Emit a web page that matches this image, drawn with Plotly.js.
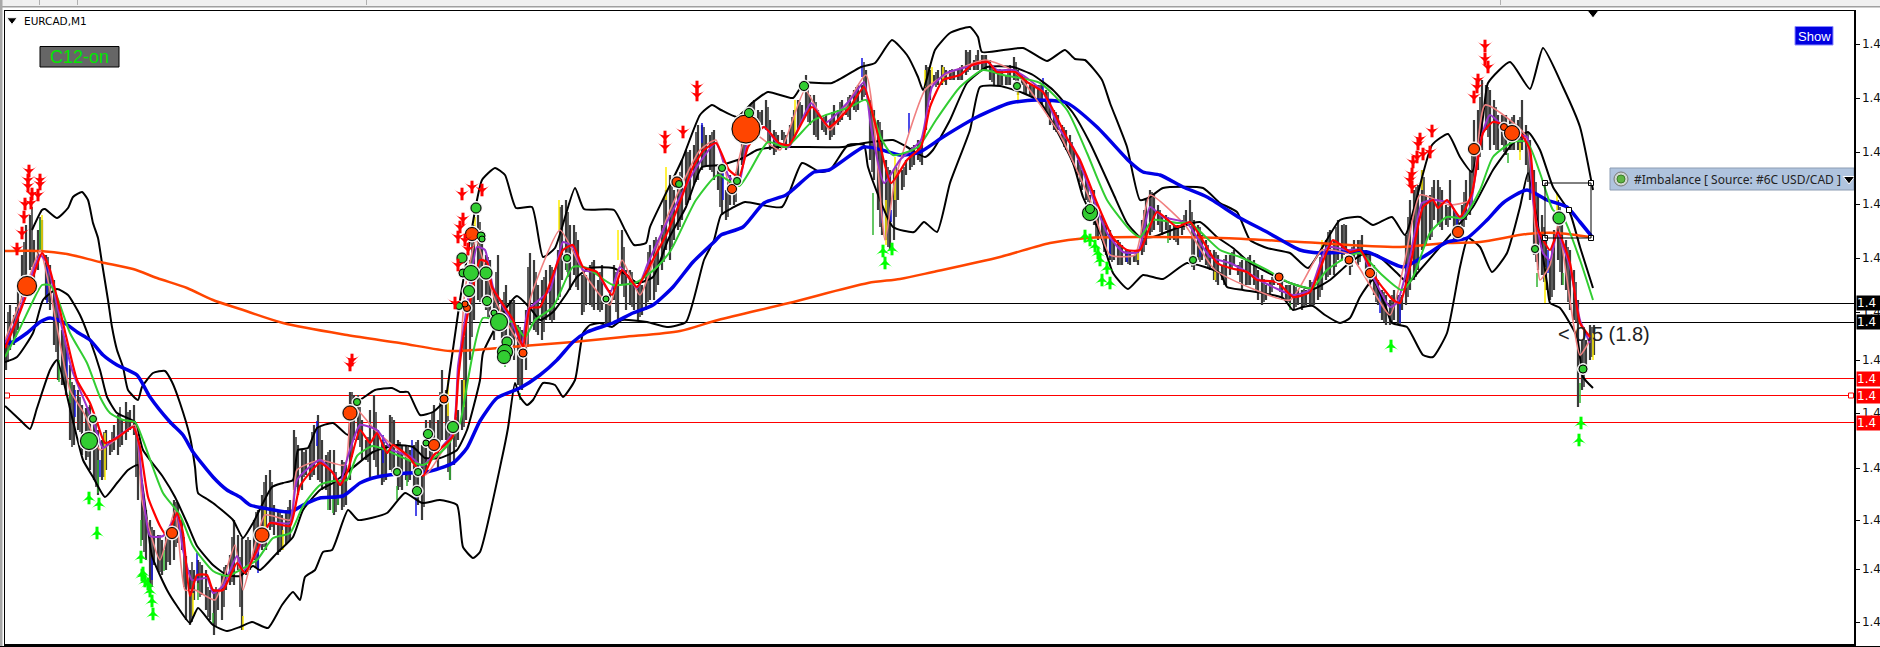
<!DOCTYPE html>
<html>
<head>
<meta charset="utf-8">
<script src="https://cdn.plot.ly/plotly-3.0.1.min.js"></script>
<style>html,body{margin:0;padding:0;background:#fff;overflow:hidden}#chart{width:1880px;height:647px}</style>
</head>
<body>
<div id="chart"></div>
<script>
// Vertical unit: points above 1.40000. Horizontal unit: chart bars.
const symbolName = 'EURCAD,M1';
const priceTicks = [603,549,495,443,389,335,287,234,179,127,78,25];
const priceTickText = priceTicks.map(() => '1.4');
const blackLevels = [343.5,324.5];
const redLevels = [268.5,251.5,224.5];

const barStart = 6, barStep = 4;
const barHigh = [
307,342,332,357,392,422,432,407,417,427,392,382,367,347,317,302,282,262,257,242,
239,242,222,217,207,217,207,222,232,227,245,237,242,207,167,137,127,117,112,107,
117,112,147,144,127,91,77,77,87,82,77,57,57,57,72,82,92,127,112,109,
107,107,127,137,152,172,177,142,137,132,137,147,217,202,197,197,202,222,232,207,
192,197,197,167,187,182,255,252,252,227,207,237,252,217,207,202,232,227,207,202,
202,197,202,207,202,227,227,242,227,277,257,227,227,237,267,347,387,422,432,417,
392,387,357,392,347,362,347,347,322,317,337,394,387,362,367,377,382,377,397,442,
447,422,422,407,372,372,382,387,367,382,347,357,382,367,417,377,377,367,362,362,
377,402,407,407,422,457,472,457,467,487,497,497,502,522,522,512,512,517,482,477,
457,472,462,487,507,537,542,547,537,537,547,527,517,512,517,512,522,537,547,542,
572,552,552,537,527,532,527,542,537,547,542,552,557,562,562,577,547,537,527,517,
487,477,477,477,477,487,492,502,507,502,582,577,572,577,582,577,577,577,577,582,
597,597,587,597,592,592,587,577,577,577,572,582,590,577,572,567,562,562,562,562,
557,547,537,532,522,517,512,497,487,477,472,452,457,432,432,422,417,407,407,402,
397,397,392,397,427,447,457,452,442,432,432,422,422,422,427,437,447,427,422,412,
407,397,397,392,382,392,392,397,382,387,387,392,387,377,372,362,367,372,372,367,
362,362,362,357,357,357,367,362,377,402,407,417,407,427,422,422,397,407,407,412,
397,392,382,367,357,352,347,357,352,352,412,447,457,462,477,452,452,467,467,457,
442,467,437,432,442,467,477,527,537,567,562,557,547,532,532,532,527,532,527,547,
522,507,477,452,432,407,387,417,447,432,407,397,377,347,307,307,322,322];
const barLow = [
277,297,302,317,347,362,377,367,377,397,347,337,302,267,262,252,207,202,217,192,
187,177,167,152,167,177,192,197,192,202,207,217,212,147,107,87,57,82,77,72,
77,82,87,104,97,27,22,47,57,52,37,27,12,37,27,57,62,62,77,17,
72,77,87,77,97,97,117,112,92,97,102,107,157,152,157,172,167,172,167,157,
157,137,132,142,137,142,167,207,207,187,187,167,187,172,162,167,177,177,157,157,
167,167,157,142,127,177,187,197,177,207,207,167,182,207,217,227,287,327,347,347,
337,327,307,322,302,297,302,287,262,257,277,322,317,312,307,327,327,327,347,367,
377,357,372,357,332,342,342,337,337,337,322,322,347,327,362,337,342,337,327,332,
337,347,347,362,377,397,387,407,417,427,442,447,462,467,477,482,477,467,457,432,
427,442,442,462,482,497,507,517,517,522,517,497,492,497,507,497,502,507,517,527,
532,522,512,507,517,512,507,512,522,527,532,527,537,537,547,552,487,467,437,412,
407,397,407,447,457,472,477,482,487,482,517,547,562,562,562,562,567,567,567,567,
572,577,577,577,577,577,567,562,562,562,562,562,567,552,562,552,552,547,547,542,
537,522,517,517,507,497,492,482,472,457,447,442,422,407,407,392,387,387,382,382,
385,382,385,382,392,402,412,417,422,412,417,407,407,402,412,422,422,377,387,387,
382,377,367,362,367,362,372,382,372,357,362,362,362,347,342,347,352,362,362,347,
347,342,337,342,337,342,342,342,347,357,367,372,372,387,387,397,372,387,382,392,
377,362,352,342,327,322,322,327,322,337,342,357,367,377,397,402,407,427,422,417,
422,427,407,407,412,427,432,467,477,497,517,497,502,497,502,492,497,497,497,497,
482,447,392,377,372,357,347,357,387,362,357,337,327,240,257,277,287,292];

const wickStart = 8, wickStep = 8;
const wickHigh = [
335,340,405,440,430,390,350,310,265,250,240,230,215,215,240,235,225,150,120,112,
115,145,110,85,85,60,60,80,110,90,110,135,165,165,135,140,210,195,215,220,
195,175,185,255,240,210,235,205,230,205,200,205,205,235,255,245,230,310,410,425,
390,375,355,345,320,380,375,370,380,440,435,415,375,385,375,350,375,400,375,365,
395,410,450,465,475,495,515,520,515,480,465,475,520,545,535,540,515,515,530,545,
560,545,530,535,545,550,560,585,540,525,480,480,480,500,505,580,575,580,578,580,
595,592,592,580,578,578,585,570,563,562,555,535,520,505,482,462,445,428,412,405,
397,395,437,455,437,430,422,432,435,420,402,395,388,395,385,390,382,368,370,370,
362,360,358,365,390,415,420,423,400,407,395,375,355,352,350,430,460,470,460,460,
440,435,455,500,550,560,540,532,530,530,515,465,420,400,440,400,365,320,320];
const wickLow = [
285,310,350,380,395,345,295,262,200,215,190,160,170,195,200,215,170,95,60,75,
85,100,60,25,50,30,20,40,65,40,75,80,100,120,95,105,160,170,170,165,
150,135,140,190,200,185,180,165,175,160,165,150,140,190,200,175,200,220,310,345,
330,315,300,295,260,300,315,315,325,350,370,360,335,340,335,320,335,350,340,330,
345,355,385,400,420,445,465,480,475,440,430,445,490,510,520,505,495,500,505,520,
525,510,515,510,525,530,535,550,475,420,400,430,460,480,485,540,560,565,567,567,
575,577,577,565,562,562,560,553,550,545,530,515,500,485,465,445,410,395,385,382,
383,385,395,415,415,410,405,417,380,385,380,365,362,378,365,362,355,345,355,355,
345,340,340,342,350,370,380,392,380,385,368,345,325,324,322,350,370,400,410,420,
420,407,420,440,490,510,497,495,497,495,465,385,365,350,375,345,325,260,290];

const yellowTickX = [42,105,193,243,265,283,448,464,475,559,618,666,795,886,895,925,932,943,1018,1138,1215,1322,1422,1520,1545,1557,1593];
const yellowTickHigh = [432,214,54,31,139,117,267,267,430,447,417,480,547,447,490,577,580,580,557,394,377,407,477,504,380,454,314];
const yellowTickLow = [397,167,31,17,107,97,231,240,407,417,387,447,507,402,447,560,564,564,547,387,367,394,457,487,344,434,287];
const blueTickX = [47,67,75,100,152,197,258,317,383,416,412,702,723,862,882,891,909,1043,1110,1127,1200,1380,1400,1457,1548];
const blueTickHigh = [380,300,257,187,91,94,97,226,212,157,207,524,474,589,440,437,534,569,407,394,400,354,347,434,397];
const blueTickLow = [344,267,230,170,67,67,74,201,184,131,187,504,447,570,424,425,514,554,390,385,390,334,324,417,374];
const greenTickX = [40,59,70,98,141,164,198,213,328,333,338,397,407,450,505,520,567,873,1168,1290,1508,1537,1563,1580];
const greenTickHigh = [427,287,267,187,127,97,64,34,151,151,151,161,171,184,289,254,387,454,414,344,494,374,374,264];
const greenTickLow = [397,265,244,154,101,76,47,24,137,134,142,147,161,167,280,247,375,412,404,337,484,360,362,244];

const upperX = [
32,42,45,57,68,73,82,88,93,98,
102,108,112,117,123,128,138,142,153,165,
172,180,190,195,198,207,213,233,243,253,
272,283,293,298,308,317,333,348,352,363,
375,392,400,408,420,433,445,450,460,470,
476,482,495,505,516,532,543,555,575,584,
614,625,634,646,650,682,700,712,721,737,
752,768,793,804,832,861,875,892,907,918,
923,935,950,970,978,982,1023,1047,1065,1075,
1085,1102,1110,1127,1140,1150,1163,1203,1220,1237,
1250,1267,1290,1308,1340,1360,1373,1392,1405,1432,
1448,1460,1472,1483,1488,1510,1530,1543,1563,1580,
1593];
const upperY = [
417,437,438,429,439,450,455,447,424,409,
384,347,320,297,280,257,247,260,274,276,
265,244,210,180,154,148,144,127,109,124,
160,164,167,197,199,219,224,212,242,249,
257,259,255,255,232,235,247,277,347,407,
442,467,479,472,439,440,390,399,459,438,
437,417,402,404,420,487,532,542,537,530,
544,555,549,564,564,580,584,607,592,570,
557,597,614,620,610,595,599,586,597,588,
587,567,544,500,447,450,459,459,444,435,
407,399,394,379,427,430,422,430,412,502,
513,490,475,530,564,585,558,599,560,520,
457];
const middleX = [
5,17,33,43,57,68,80,90,100,107,
117,135,143,163,175,187,197,213,227,240,
253,260,277,293,303,320,333,350,373,397,
413,425,440,457,467,480,483,507,517,530,
540,553,567,577,590,613,627,637,653,668,
686,702,721,743,757,779,843,864,893,907,
925,933,950,967,987,1013,1033,1053,1073,1090,
1113,1127,1140,1153,1177,1200,1217,1233,1250,1263,
1290,1313,1330,1347,1363,1377,1397,1408,1420,1473,
1493,1513,1528,1540,1553,1570,1580,1593];
const middleY = [
285,290,314,347,358,352,332,307,277,250,
234,225,197,170,150,124,101,82,72,71,
81,77,94,110,137,157,164,177,195,202,
200,189,189,197,217,267,294,340,351,339,
327,335,354,370,379,379,372,364,370,407,
440,480,482,489,497,500,500,504,507,500,
490,497,527,564,580,580,572,557,534,504,
454,424,410,410,419,425,410,399,384,377,
364,358,367,382,393,392,374,364,377,440,
477,504,515,497,460,434,400,359];
const lowerX = [
5,20,30,37,50,57,72,83,93,105,
117,128,138,152,167,177,190,198,213,227,
240,252,268,282,293,300,305,315,323,332,
348,358,387,405,422,440,457,463,473,480,
502,508,515,520,527,533,543,555,563,575,
583,590,600,612,622,647,667,686,704,714,
721,732,745,782,802,820,830,848,864,868,
893,914,924,937,950,970,980,1000,1023,1040,
1073,1083,1100,1113,1128,1143,1163,1187,1220,1227,
1243,1262,1283,1293,1303,1313,1325,1340,1350,1360,
1373,1385,1392,1407,1413,1423,1433,1447,1460,1468,
1480,1492,1507,1520,1528,1547,1550,1560,1577,1583,1593];
const lowerY = [
241,227,218,239,277,287,230,187,170,150,
164,177,182,91,57,41,24,39,22,16,
20,25,19,42,55,47,70,77,95,97,
137,127,134,154,144,147,142,100,89,95,
189,219,264,250,242,247,264,262,250,267,
314,322,324,320,327,325,320,325,387,407,
432,439,445,440,484,475,477,502,502,480,
420,415,425,415,464,517,560,561,554,545,
484,450,414,374,358,372,368,384,374,360,
357,354,349,337,340,341,332,324,329,350,
367,342,324,320,310,292,290,314,380,409,
400,375,394,440,474,364,344,339,310,270,259];

const slowX = [5,40,67,100,133,157,187,213,240,283,347,400,450,473,523,573,623,680,718,789,868,900,933,1000,1050,1087,1220,1300,1400,1447,1480,1527,1557,1590];
const slowY = [396,396,393,385,378,369,359,347,338,324,312,304,296,297,301,305,310,316,327,344,364,368,375,390,404,409,409,405,400,404,405,413,414,410];
const blueX = [
5,13,27,40,50,63,77,90,103,117,
137,150,170,183,193,213,227,240,250,263,
290,303,320,343,360,377,407,427,453,467,
480,497,520,540,557,573,587,613,633,653,
673,693,714,721,743,764,786,814,829,864,
882,900,920,943,977,1010,1037,1067,1097,1130,
1143,1160,1183,1207,1240,1267,1300,1320,1367,1403,
1423,1447,1467,1487,1503,1527,1547,1567,1580,1593];
const blueY = [
304,305,314,325,329,325,315,307,292,282,
272,250,225,212,195,170,157,150,142,139,
135,142,149,151,164,170,174,175,184,199,
226,249,259,272,287,305,315,324,334,342,
360,385,405,412,420,444,452,475,477,500,
497,492,495,510,530,544,547,544,520,485,
475,472,460,450,429,415,397,394,395,380,
390,405,409,427,444,457,447,440,425,409];
const greenX = [
5,20,32,42,50,57,70,87,100,110,
123,135,143,163,180,193,213,227,240,257,
273,290,303,320,333,347,357,373,397,423,
447,460,465,473,483,498,513,525,535,553,
573,587,613,637,657,671,696,718,739,768,
786,814,850,866,882,893,918,936,960,983,
1003,1040,1067,1087,1107,1130,1140,1153,1177,1190,
1220,1240,1267,1290,1312,1327,1347,1360,1380,1402,
1413,1430,1447,1463,1480,1493,1513,1527,1540,1553,
1563,1580,1593];
const greenY = [
290,319,344,362,362,350,314,284,250,234,
227,225,207,154,132,101,76,71,77,87,
109,114,141,162,166,167,191,201,192,182,
201,224,250,294,329,327,325,310,327,340,
380,379,362,365,380,397,447,472,461,505,
500,527,540,547,507,492,500,527,560,577,
572,564,537,494,447,417,410,427,424,424,
397,390,377,364,359,377,390,394,374,357,
370,414,430,429,457,490,505,505,474,437,
430,387,347];
const redX = [
5,17,33,42,50,63,77,90,97,105,
117,133,140,148,160,167,177,183,190,197,
207,213,223,237,245,257,270,290,300,320,
333,340,348,360,370,377,387,393,410,423,
433,453,458,463,468,480,487,492,513,523,
530,540,563,573,583,597,612,622,637,650,
667,680,693,704,716,729,739,748,764,779,
789,812,829,850,864,875,891,907,921,930,
943,960,972,988,997,1015,1027,1043,1067,1080,
1097,1113,1127,1140,1157,1177,1190,1217,1230,1247,
1257,1277,1293,1310,1333,1350,1360,1377,1393,1400,
1410,1423,1433,1438,1447,1460,1472,1483,1493,1520,
1530,1537,1550,1558,1570,1580,1590];
const redY = [
299,327,370,394,377,324,267,244,225,204,
209,220,200,150,121,111,134,114,51,72,
72,57,57,84,74,97,124,121,161,184,
174,162,177,217,204,214,194,202,189,171,
191,211,267,307,334,387,385,360,327,300,
339,340,397,402,380,375,352,377,360,382,
414,445,480,497,504,477,470,500,520,504,
502,540,520,540,560,524,464,487,500,540,
567,572,582,585,575,575,565,555,509,487,
444,409,397,397,435,420,425,384,379,375,
367,365,350,355,407,395,397,367,347,344,
380,440,447,439,447,430,454,514,525,514,
497,420,397,415,384,324,310];
const purpleX = [
5,15,30,40,47,58,72,87,95,103,
113,133,138,143,150,163,177,183,192,207,
213,223,237,243,257,270,290,297,320,333,
340,348,360,377,392,410,422,433,453,458,
463,468,477,485,493,512,522,528,550,563,
573,583,597,610,620,637,648,667,680,696,
716,729,739,748,764,779,789,811,825,850,
864,871,884,900,921,932,946,963,987,997,
1013,1027,1043,1060,1073,1090,1107,1123,1138,1150,
1163,1187,1210,1230,1247,1263,1293,1310,1327,1347,
1360,1373,1390,1397,1410,1422,1433,1450,1460,1470,
1480,1490,1510,1527,1533,1543,1550,1557,1570,1580,1590];
const purpleY = [
304,324,367,392,384,337,277,240,220,199,
207,220,207,154,111,111,131,97,67,69,
54,61,91,76,94,124,124,167,187,174,
164,191,222,217,197,191,181,191,214,281,
314,347,400,397,360,324,304,337,357,405,
400,377,374,354,380,359,384,425,450,479,
504,470,464,507,520,502,500,544,524,547,
565,520,464,487,507,560,574,579,585,577,
577,569,555,517,500,457,414,395,395,440,
430,424,390,384,375,365,352,357,400,397,
397,370,340,344,390,444,447,444,427,440,
504,532,514,510,447,394,387,414,380,327,304];
const salmonX = [
5,25,40,50,70,85,100,115,135,142,
160,175,185,195,215,235,243,265,290,297,
320,345,352,375,410,425,453,465,476,495,
525,530,560,585,610,622,640,668,700,716,
731,748,780,805,830,866,885,895,925,945,
985,1015,1060,1090,1110,1135,1150,1185,1215,1290,
1322,1350,1390,1405,1420,1450,1470,1485,1525,1540,
1550,1558,1580,1590];
const salmonY = [
307,357,397,357,257,232,197,207,222,147,
87,137,57,57,47,102,57,132,127,177,
187,182,242,217,187,172,217,357,407,347,
297,347,417,372,342,387,352,432,497,507,
457,517,497,557,517,572,407,467,557,572,
587,575,512,447,392,392,452,422,377,347,
397,392,332,387,452,442,447,542,512,367,
382,422,292,307];

const sellDotX = [27,172,262,350,444,434,472,467,465,523,746,677,732,1279,1349,1370,1458,1474,1504,1512];
const sellDotY = [361,114,112,234,248,202,413,339,343,294,518,465,458,370,387,374,415,498,520,514];
const sellDotSize = [18,10,13,13,7,10,12,6,5,7,27,9,8,7,7,8,10,10,6,14];
const buyDotX = [89,93,357,397,418,417,428,426,453,476,481,482,462,463,471,486,469,487,459,494,499,507,505,504,567,606,679,722,737,749,804,1017,1090,1090,1193,1535,1559,1583];
const buyDotY = [206,228,245,175,175,156,213,204,220,439,411,408,389,374,374,374,356,346,341,334,325,305,295,290,389,348,463,479,466,534,561,561,434,438,387,398,429,278];
const buyDotSize = [16,6,6,6,6,8,8,5,10,9,7,5,9,7,14,11,10,8,6,5,16,9,14,12,6,5,6,6,6,8,8,6,14,8,6,6,11,7];

const sellArrowX = [29,28,28,40,40,32,38,25,31,24,22,17,462,472,482,463,460,458,465,468,458,455,697,697,683,665,665,352,350,1485,1485,1488,1478,1477,1474,1432,1420,1418,1423,1417,1413,1430,1412,1412,1410];
const sellArrowY = [473,464,458,464,460,450,449,440,441,427,411,395,450,457,454,425,417,407,404,395,379,341,557,549,512,507,497,284,279,598,585,577,564,557,547,513,505,500,490,487,482,492,470,457,464];
const buyArrowX = [89,99,97,141,143,142,145,148,150,152,153,883,892,885,1085,1090,1095,1098,1100,1107,1102,1110,1391,1581,1579];
const buyArrowY = [152,146,117,93,77,75,69,66,59,49,36,399,401,387,414,410,404,397,390,382,370,367,304,227,210];

const boxX = [1545,1591,1545,1591,1569];
const boxY = [464,464,409,409,437];

// ---- construction ----
const barX = barHigh.map((_, i) => barStart + i * barStep);
const wickX = wickHigh.map((_, i) => wickStart + i * wickStep);
function sticks(xs, hi, lo, color, width) {
  const x = [], y = [];
  xs.forEach((v, i) => { x.push(v, v, null); y.push(lo[i], hi[i], null); });
  return {type:'scatter', mode:'lines', x, y, line:{color, width}, hoverinfo:'skip', showlegend:false};
}
function line(x, y, color, width, smoothing) {
  return {type:'scatter', mode:'lines', x, y, line:{color, width, shape:'spline', smoothing, simplify:false}, hoverinfo:'skip', showlegend:false};
}
function dots(x, y, size, color, extra) {
  return {type:'scatter', mode:'markers', x, y, marker:Object.assign({size, color, opacity:1}, extra||{}), hoverinfo:'skip', showlegend:false, cliponaxis:false};
}
[[barHigh,barLow],[wickHigh,wickLow],[upperX,upperY],[middleX,middleY],[lowerX,lowerY],[slowX,slowY],[blueX,blueY],[greenX,greenY],[redX,redY],[purpleX,purpleY],[salmonX,salmonY],[sellDotX,sellDotY],[buyDotX,buyDotY],[sellArrowX,sellArrowY],[buyArrowX,buyArrowY]].forEach((p,i)=>{ if(p[0].length!==p[1].length) throw new Error('length mismatch '+i+': '+p[0].length+' vs '+p[1].length); });

const arrowStem = (x, y, color, dir) => ({type:'scatter', mode:'markers', x, y:y.map(v=>v-dir*3), marker:{symbol:'line-ns', size:9, opacity:1, line:{color, width:3}}, hoverinfo:'skip', showlegend:false, cliponaxis:false});

const traces = [
  sticks(barX, barHigh, barLow, '#3a3a3a', 2.2),
  sticks(wickX, wickHigh, wickLow, '#3a3a3a', 1.6),
  sticks(yellowTickX, yellowTickHigh, yellowTickLow, '#ffee00', 1.5),
  sticks(blueTickX, blueTickHigh, blueTickLow, '#1010e0', 1.5),
  sticks(greenTickX, greenTickHigh, greenTickLow, '#32b432', 1.5),
  line(upperX, upperY, '#000', 2, 0.5),
  line(middleX, middleY, '#000', 2, 0.5),
  line(lowerX, lowerY, '#000', 2, 0.5),
  line(slowX, slowY, '#ff4500', 2.5, 0.8),
  line(blueX, blueY, '#0000e6', 3.5, 0.6),
  line(salmonX, salmonY, '#f08080', 1.6, 0.5),
  line(purpleX, purpleY, '#9932cc', 2, 0.5),
  line(greenX, greenY, '#32cd32', 2, 0.6),
  line(redX, redY, '#ff0000', 2.2, 0.5),
  dots(sellDotX, sellDotY, sellDotSize.map(d=>d+4), '#c8c8c8'),
  dots(buyDotX, buyDotY, buyDotSize.map(d=>d+4), '#c8c8c8'),
  dots(sellDotX, sellDotY, sellDotSize.map(d=>d+1), '#ff4500', {line:{color:'#000', width:1}}),
  dots(buyDotX, buyDotY, buyDotSize.map(d=>d+1), '#32cd32', {line:{color:'#000', width:1}}),
  arrowStem(sellArrowX, sellArrowY, '#ff0000', -1),
  dots(sellArrowX, sellArrowY, 11, '#ff0000', {symbol:'arrow-wide', angle:180}),
  arrowStem(buyArrowX, buyArrowY, '#00ff00', 1),
  dots(buyArrowX, buyArrowY, 11, '#00ff00', {symbol:'arrow-wide', angle:0}),
  dots(boxX, boxY, 5, '#fff', {symbol:'square', line:{color:'#000', width:1}}),
  dots([7,1851], [251.5,251.5], 5, '#fff', {symbol:'square', line:{color:'#ff0000', width:1}}),
  dots([1593,12,1849], [634,627,468], [10,9,10], '#000', {symbol:'triangle-down'}),
  dots([1621], [468], 14, '#cfd6d0', {line:{color:'#777', width:1}}),
  dots([1621], [468], 8, '#5fb544', {line:{color:'#3d7d2a', width:1}})
];

const shapes = [];
const P = py => 647 - py;
const PX = px => (px - 5) / 1849, PY = py => (644 - py) / 633;
const rect = (x0,y0,x1,y1,fill,stroke,layer) => shapes.push({type:'rect',xref:'x',yref:'y',x0,y0,x1,y1,fillcolor:fill,line:{color:stroke||fill,width:stroke?1:0},layer:layer||'below'});
const chrome = (x0,y0,x1,y1,fill) => shapes.push({type:'rect',xref:'paper',yref:'paper',x0:PX(x0),x1:PX(x1),y0:PY(y0),y1:PY(y1),fillcolor:fill,line:{width:0},layer:'above'});
// window chrome
chrome(0,0,1880,6,'#f0f0f0');
chrome(0,6,1880,7.5,'#a0a0a0');
chrome(0,0,2.5,647,'#a8a8a8');
[39,77,366,1500].forEach(v=>chrome(v,0,v+1,5,'#b0b0b0'));
chrome(0,646,1880,647,'#000');
// levels
blackLevels.forEach(v=>shapes.push({type:'line',xref:'x',yref:'y',x0:5,x1:1854,y0:v,y1:v,line:{color:'#000',width:1},layer:'below'}));
redLevels.forEach(v=>shapes.push({type:'line',xref:'x',yref:'y',x0:5,x1:1854,y0:v,y1:v,line:{color:'#ff0000',width:1},layer:'below'}));
// imbalance box on the chart
shapes.push({type:'rect',xref:'x',yref:'y',x0:boxX[0],x1:boxX[1],y0:boxY[0],y1:boxY[2],line:{color:'#000',width:1},fillcolor:'rgba(0,0,0,0)',layer:'above'});
// widgets
rect(40,P(46.5),119,P(67),'#666666','#000','above');
rect(1795,P(26.5),1833,P(45),'#0000e0','#8a8aff','above');
rect(1610,P(168),1854,P(190),'#b0c4de','#8c9cb2','below');

const annotations = [];
const note = (x, py, text, font, anchor) => annotations.push({xref:'x',yref:'y',x,y:P(py),text,showarrow:false,font,xanchor:anchor||'left',yanchor:'middle',borderpad:0});
note(23, 20.5, symbolName, {family:'"DejaVu Sans"', size:10.5, color:'#000'});
note(79.5, 57, 'C12-on', {family:'"Liberation Sans"', size:18, color:'#00e600'}, 'center');
note(1814, 36, 'Show', {family:'"Liberation Sans"', size:13, color:'#fff'}, 'center');
note(1633, 179, '#Imbalance [ Source: #6C USD/CAD ]', {family:'"Noto Sans"', size:12, color:'#222'});
note(1557, 334, '&lt; 0.5 (1.8)', {family:'"Liberation Sans"', size:20, color:'#222'});
[[303,'#000'],[322,'#000'],[379,'#ff0000'],[396,'#ff0000'],[423,'#ff0000']].forEach(([py,bg])=>{
  annotations.push({xref:'paper',yref:'paper',x:PX(1856),y:PY(py),text:'1.4',showarrow:false,xanchor:'left',yanchor:'middle',width:24,height:14,align:'left',bgcolor:bg,borderpad:0,font:{family:'"DejaVu Sans"',size:12,color:'#fff'}});
});

const layout = {
  width:1880, height:647,
  margin:{l:5,r:26,t:11,b:3,pad:0},
  paper_bgcolor:'#fff', plot_bgcolor:'#fff',
  showlegend:false, hovermode:false,
  xaxis:{range:[5,1854],showgrid:false,zeroline:false,showticklabels:false,ticks:'',showline:true,mirror:true,linecolor:'#000',linewidth:1.5},
  yaxis:{range:[3,636],side:'right',showgrid:false,zeroline:false,tickmode:'array',tickvals:priceTicks,ticktext:priceTickText,ticks:'outside',ticklen:4,tickwidth:1,tickcolor:'#000',showline:true,mirror:true,linecolor:'#000',linewidth:1.5,tickfont:{family:'"DejaVu Sans"',size:12,color:'#111'}},
  shapes, annotations
};
Plotly.newPlot('chart', traces, layout, {displayModeBar:false, staticPlot:true});
</script>
</body>
</html>
